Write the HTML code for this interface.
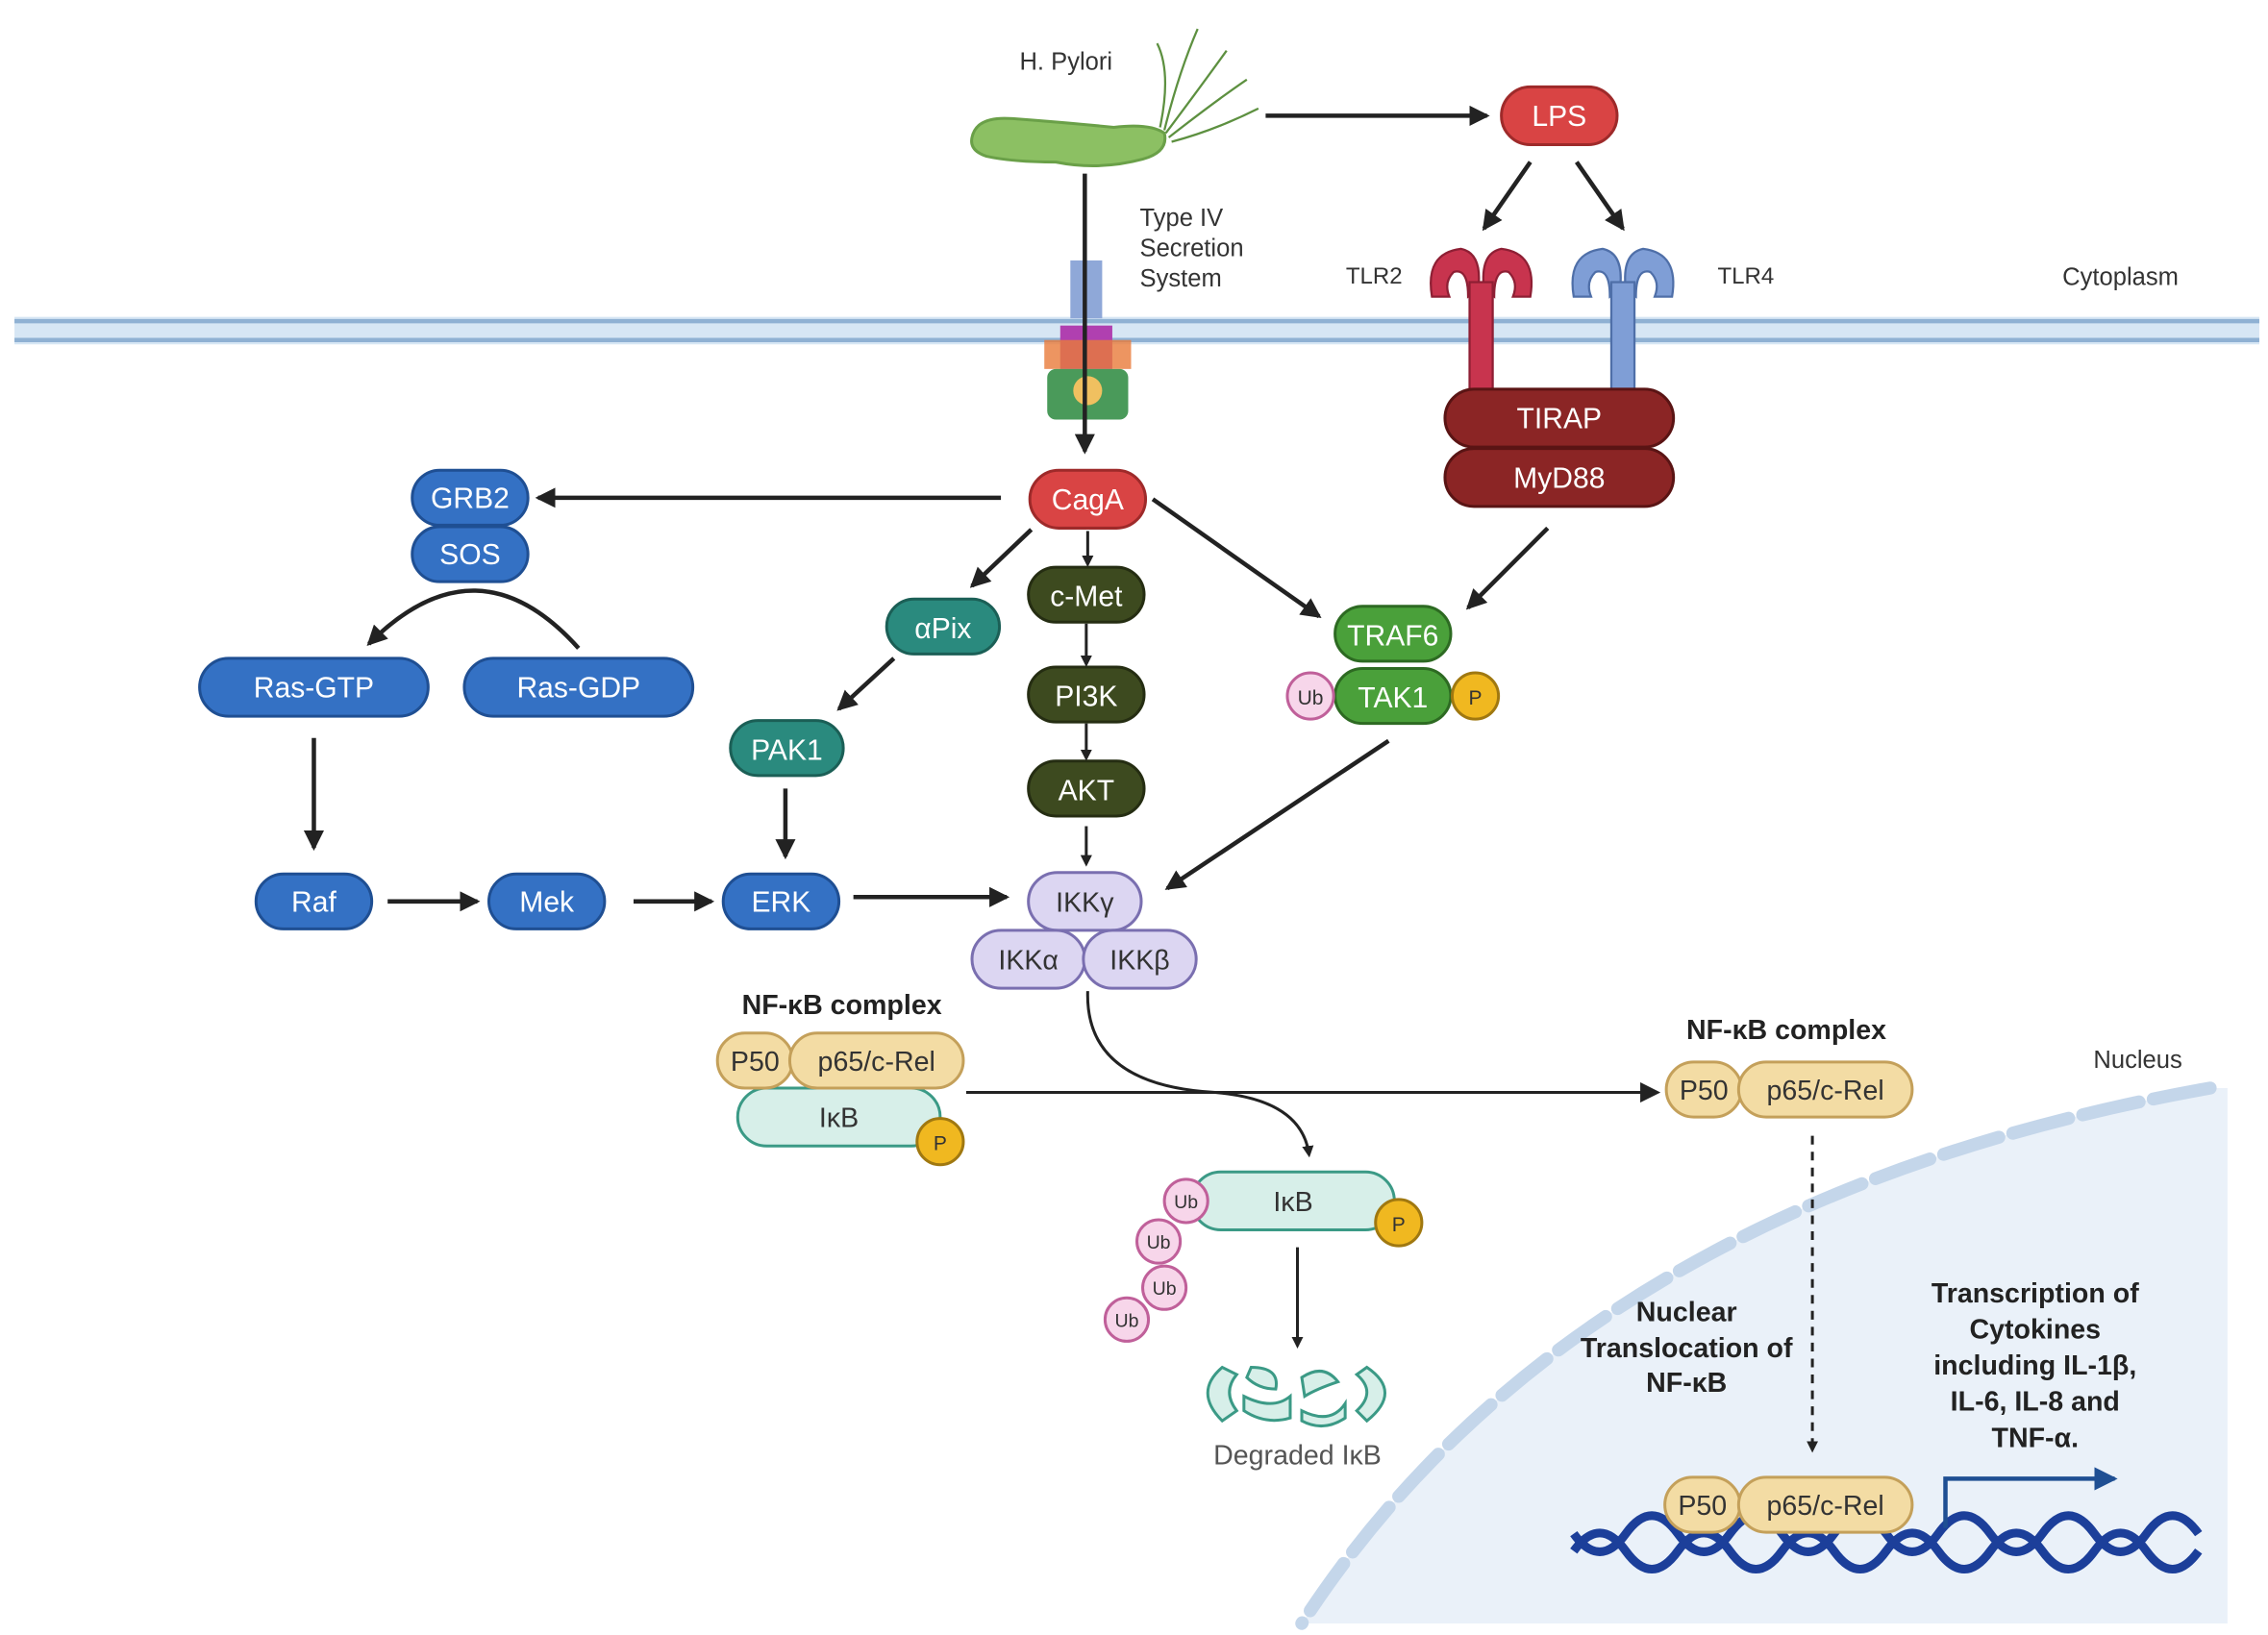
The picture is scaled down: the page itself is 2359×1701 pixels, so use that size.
<!DOCTYPE html>
<html><head><meta charset="utf-8"><style>
html,body{margin:0;padding:0;background:#fff;}
svg{display:block;}
text{font-family:"Liberation Sans",sans-serif;}
</style></head><body>
<svg width="2359" height="1701" viewBox="0 0 1568 1130" preserveAspectRatio="none" xmlns="http://www.w3.org/2000/svg">
<defs>
<marker id="ah" markerWidth="8" markerHeight="8" refX="6" refY="4" orient="auto" markerUnits="userSpaceOnUse"><path d="M0,0 L8,4 L0,8 z" fill="#222"/></marker>
<marker id="ah2" markerWidth="14" markerHeight="14" refX="12" refY="7" orient="auto" markerUnits="userSpaceOnUse"><path d="M0,0 L14,7 L0,14 z" fill="#222"/></marker>
<marker id="ahb" markerWidth="16" markerHeight="16" refX="14" refY="8" orient="auto" markerUnits="userSpaceOnUse"><path d="M0,0 L16,8 L0,16 z" fill="#1f4f93"/></marker>
</defs>
<rect width="1568" height="1130" fill="#fff"/>
<!-- nucleus -->
<path d="M1528,752 Q1090,830 900,1122 L1540,1122 L1540,752 Z" fill="#eaf1f9"/>
<path d="M1528,752 Q1090,830 900,1122" fill="none" stroke="#c4d6ea" stroke-width="9" stroke-dasharray="40,10" stroke-linecap="round"/>
<text x="1478" y="738" font-size="17" text-anchor="middle" fill="#333">Nucleus</text>
<!-- membrane -->
<rect x="10" y="219" width="1552" height="19" fill="#d6e6f4"/>
<line x1="10" y1="222" x2="1562" y2="222" stroke="#8fb1d3" stroke-width="3"/>
<line x1="10" y1="235" x2="1562" y2="235" stroke="#8fb1d3" stroke-width="3"/>
<text x="1466" y="197" font-size="17" text-anchor="middle" fill="#333">Cytoplasm</text>
<!-- H pylori -->
<text x="737" y="48" font-size="17" text-anchor="middle" fill="#333">H. Pylori</text>
<path d="M672,95 Q675,80 700,82 Q740,85 770,88 Q795,85 805,92 Q808,105 790,110 Q760,118 730,112 Q700,112 682,108 Q670,104 672,95Z" fill="#8cc063" stroke="#6aa048" stroke-width="2"/>
<path d="M805,90 Q815,50 828,20 M806,92 Q830,60 848,35 M808,95 Q840,70 862,55 M810,98 Q840,90 870,75 M802,88 Q810,50 800,30" fill="none" stroke="#5d9040" stroke-width="1.5"/>
<line x1="875" y1="80" x2="1028" y2="80" stroke="#222" stroke-width="3" marker-end="url(#ah2)"/>
<text x="788" y="156" font-size="17" fill="#333">Type IV</text>
<text x="788" y="177" font-size="17" fill="#333">Secretion</text>
<text x="788" y="198" font-size="17" fill="#333">System</text>
<!-- secretion apparatus -->
<rect x="740" y="180" width="22" height="40" fill="#8fa8d8"/>
<rect x="733" y="225" width="36" height="30" fill="#b040b0"/>
<rect x="722" y="235" width="60" height="20" fill="#e87a3a" opacity="0.8"/>
<rect x="724" y="255" width="56" height="35" fill="#4a9a5a" rx="6"/>
<circle cx="752" cy="270" r="10" fill="#f0c060"/>
<line x1="750" y1="120" x2="750" y2="312" stroke="#222" stroke-width="3" marker-end="url(#ah2)"/>
<!-- LPS -->
<rect x="1038" y="60" width="80" height="40" rx="20" fill="#d94444" stroke="#9e2a2a" stroke-width="2"/>
<text x="1078" y="87" font-size="20" text-anchor="middle" fill="#fff">LPS</text>
<line x1="1058" y1="112" x2="1026" y2="158" stroke="#222" stroke-width="3" marker-end="url(#ah2)"/>
<line x1="1090" y1="112" x2="1122" y2="158" stroke="#222" stroke-width="3" marker-end="url(#ah2)"/>
<text x="950" y="196" font-size="16" text-anchor="middle" fill="#333">TLR2</text>
<text x="1207" y="196" font-size="16" text-anchor="middle" fill="#333">TLR4</text>
<!-- TLR2 -->
<g fill="#c8344e" stroke="#8e1f34" stroke-width="1.5">
<path d="M990,205 Q985,175 1010,172 Q1025,175 1022,200 L1015,205 Q1015,185 1005,188 Q998,195 1002,205Z"/>
<path d="M1058,205 Q1063,175 1038,172 Q1023,175 1026,200 L1033,205 Q1033,185 1043,188 Q1050,195 1046,205Z"/>
<rect x="1016" y="195" width="16" height="75"/>
</g>
<!-- TLR4 -->
<g fill="#7f9ed6" stroke="#4f6fa8" stroke-width="1.5">
<path d="M1088,205 Q1083,175 1108,172 Q1123,175 1120,200 L1113,205 Q1113,185 1103,188 Q1096,195 1100,205Z"/>
<path d="M1156,205 Q1161,175 1136,172 Q1121,175 1124,200 L1131,205 Q1131,185 1141,188 Q1148,195 1144,205Z"/>
<rect x="1114" y="195" width="16" height="75"/>
</g>
<!-- TIRAP MyD88 -->
<rect x="999" y="269" width="158" height="40" rx="20" fill="#8b2525" stroke="#5a1414" stroke-width="2"/>
<text x="1078" y="296" font-size="20" text-anchor="middle" fill="#fff">TIRAP</text>
<rect x="999" y="310" width="158" height="40" rx="20" fill="#8b2525" stroke="#5a1414" stroke-width="2"/>
<text x="1078" y="337" font-size="20" text-anchor="middle" fill="#fff">MyD88</text>
<!-- CagA -->
<rect x="712" y="325" width="80" height="40" rx="20" fill="#d94444" stroke="#9e2a2a" stroke-width="2"/>
<text x="752" y="352" font-size="20" text-anchor="middle" fill="#fff">CagA</text>
<line x1="692" y1="344" x2="372" y2="344" stroke="#222" stroke-width="3" marker-end="url(#ah2)"/>
<!-- blue pills -->
<g fill="#3471c4" stroke="#1f4f93" stroke-width="2">
<rect x="285" y="325" width="80" height="38" rx="19"/>
<rect x="285" y="364" width="80" height="38" rx="19"/>
<rect x="138" y="455" width="158" height="40" rx="20"/>
<rect x="321" y="455" width="158" height="40" rx="20"/>
<rect x="177" y="604" width="80" height="38" rx="19"/>
<rect x="338" y="604" width="80" height="38" rx="19"/>
<rect x="500" y="604" width="80" height="38" rx="19"/>
</g>
<g font-size="20" text-anchor="middle" fill="#fff">
<text x="325" y="351">GRB2</text><text x="325" y="390">SOS</text>
<text x="217" y="482">Ras-GTP</text><text x="400" y="482">Ras-GDP</text>
<text x="217" y="630">Raf</text><text x="378" y="630">Mek</text><text x="540" y="630">ERK</text>
</g>
<path d="M400,448 Q330,370 255,445" fill="none" stroke="#222" stroke-width="3" marker-end="url(#ah2)"/>
<line x1="217" y1="510" x2="217" y2="586" stroke="#222" stroke-width="3" marker-end="url(#ah2)"/>
<line x1="268" y1="623" x2="330" y2="623" stroke="#222" stroke-width="3" marker-end="url(#ah2)"/>
<line x1="438" y1="623" x2="492" y2="623" stroke="#222" stroke-width="3" marker-end="url(#ah2)"/>
<line x1="590" y1="620" x2="696" y2="620" stroke="#222" stroke-width="3" marker-end="url(#ah2)"/>
<!-- teal -->
<rect x="613" y="414" width="78" height="38" rx="19" fill="#2a8a7e" stroke="#1b5f56" stroke-width="2"/>
<text x="652" y="441" font-size="20" text-anchor="middle" fill="#fff">αPix</text>
<rect x="505" y="498" width="78" height="38" rx="19" fill="#2a8a7e" stroke="#1b5f56" stroke-width="2"/>
<text x="544" y="525" font-size="20" text-anchor="middle" fill="#fff">PAK1</text>
<line x1="713" y1="366" x2="672" y2="405" stroke="#222" stroke-width="3" marker-end="url(#ah2)"/>
<line x1="618" y1="455" x2="580" y2="490" stroke="#222" stroke-width="3" marker-end="url(#ah2)"/>
<line x1="543" y1="545" x2="543" y2="592" stroke="#222" stroke-width="3" marker-end="url(#ah2)"/>
<!-- olive -->
<g fill="#3d4a1f" stroke="#252d12" stroke-width="2">
<rect x="711" y="392" width="80" height="38" rx="19"/>
<rect x="711" y="461" width="80" height="38" rx="19"/>
<rect x="711" y="526" width="80" height="38" rx="19"/>
</g>
<g font-size="20" text-anchor="middle" fill="#fff">
<text x="751" y="419">c-Met</text><text x="751" y="488">PI3K</text><text x="751" y="553">AKT</text>
</g>
<line x1="752" y1="367" x2="752" y2="390" stroke="#222" stroke-width="2" marker-end="url(#ah)"/>
<line x1="751" y1="431" x2="751" y2="459" stroke="#222" stroke-width="2" marker-end="url(#ah)"/>
<line x1="751" y1="500" x2="751" y2="524" stroke="#222" stroke-width="2" marker-end="url(#ah)"/>
<line x1="751" y1="571" x2="751" y2="597" stroke="#222" stroke-width="2" marker-end="url(#ah)"/>
<!-- TRAF6 TAK1 -->
<line x1="797" y1="345" x2="912" y2="426" stroke="#222" stroke-width="3" marker-end="url(#ah2)"/>
<line x1="1070" y1="365" x2="1015" y2="420" stroke="#222" stroke-width="3" marker-end="url(#ah2)"/>
<rect x="923" y="419" width="80" height="38" rx="19" fill="#4aa03a" stroke="#2d6a22" stroke-width="2"/>
<text x="963" y="446" font-size="20" text-anchor="middle" fill="#fff">TRAF6</text>
<rect x="923" y="462" width="80" height="38" rx="19" fill="#4aa03a" stroke="#2d6a22" stroke-width="2"/>
<text x="963" y="489" font-size="20" text-anchor="middle" fill="#fff">TAK1</text>
<circle cx="906" cy="481" r="16" fill="#f7d6ea" stroke="#c0609a" stroke-width="2"/>
<text x="906" y="487" font-size="14" text-anchor="middle" fill="#333">Ub</text>
<circle cx="1020" cy="481" r="16" fill="#f0b820" stroke="#a07810" stroke-width="2"/>
<text x="1020" y="487" font-size="14" text-anchor="middle" fill="#333">P</text>
<line x1="960" y1="512" x2="807" y2="614" stroke="#222" stroke-width="3" marker-end="url(#ah2)"/>
<!-- IKK -->
<g fill="#dcd6f2" stroke="#7a6fb0" stroke-width="2">
<rect x="711" y="603" width="78" height="40" rx="20"/>
<rect x="672" y="643" width="78" height="40" rx="20"/>
<rect x="749" y="643" width="78" height="40" rx="20"/>
</g>
<g font-size="19" text-anchor="middle" fill="#333">
<text x="750" y="630">IKKγ</text><text x="711" y="670">IKKα</text><text x="788" y="670">IKKβ</text>
</g>
<!-- NF-kB complex left -->
<text x="582" y="701" font-size="19" font-weight="bold" text-anchor="middle" fill="#222">NF-κB complex</text>
<rect x="510" y="752" width="140" height="40" rx="20" fill="#d7efe9" stroke="#3b9a86" stroke-width="2"/>
<text x="580" y="779" font-size="19" text-anchor="middle" fill="#333">IκB</text>
<rect x="496" y="714" width="52" height="38" rx="19" fill="#f3dca4" stroke="#c4a05a" stroke-width="2"/>
<text x="522" y="740" font-size="19" text-anchor="middle" fill="#333">P50</text>
<rect x="546" y="714" width="120" height="38" rx="19" fill="#f3dca4" stroke="#c4a05a" stroke-width="2"/>
<text x="606" y="740" font-size="19" text-anchor="middle" fill="#333">p65/c-Rel</text>
<circle cx="650" cy="789" r="16" fill="#f0b820" stroke="#a07810" stroke-width="2"/>
<text x="650" y="795" font-size="14" text-anchor="middle" fill="#333">P</text>
<line x1="668" y1="755" x2="1146" y2="755" stroke="#222" stroke-width="2" marker-end="url(#ah2)"/>
<path d="M752,685 Q750,750 840,755 Q900,760 905,798" fill="none" stroke="#222" stroke-width="2" marker-end="url(#ah)"/>
<!-- right complex -->
<text x="1235" y="718" font-size="19" font-weight="bold" text-anchor="middle" fill="#222">NF-κB complex</text>
<rect x="1152" y="734" width="52" height="38" rx="19" fill="#f3dca4" stroke="#c4a05a" stroke-width="2"/>
<text x="1178" y="760" font-size="19" text-anchor="middle" fill="#333">P50</text>
<rect x="1202" y="734" width="120" height="38" rx="19" fill="#f3dca4" stroke="#c4a05a" stroke-width="2"/>
<text x="1262" y="760" font-size="19" text-anchor="middle" fill="#333">p65/c-Rel</text>
<line x1="1253" y1="785" x2="1253" y2="1002" stroke="#222" stroke-width="2" stroke-dasharray="6,5" marker-end="url(#ah)"/>
<!-- IkB degraded -->
<rect x="824" y="810" width="140" height="40" rx="20" fill="#d7efe9" stroke="#3b9a86" stroke-width="2"/>
<text x="894" y="837" font-size="19" text-anchor="middle" fill="#333">IκB</text>
<circle cx="967" cy="845" r="16" fill="#f0b820" stroke="#a07810" stroke-width="2"/>
<text x="967" y="851" font-size="14" text-anchor="middle" fill="#333">P</text>
<g fill="#f7d6ea" stroke="#c0609a" stroke-width="2">
<circle cx="820" cy="830" r="15"/><circle cx="801" cy="858" r="15"/><circle cx="805" cy="890" r="15"/><circle cx="779" cy="912" r="15"/>
</g>
<g font-size="13" text-anchor="middle" fill="#333">
<text x="820" y="835">Ub</text><text x="801" y="863">Ub</text><text x="805" y="895">Ub</text><text x="779" y="917">Ub</text>
</g>
<line x1="897" y1="862" x2="897" y2="930" stroke="#222" stroke-width="2" marker-end="url(#ah)"/>
<g fill="#d7efe9" stroke="#3b9a86" stroke-width="2">
<path d="M845,945 Q825,962 845,982 L855,975 Q845,962 855,950Z"/>
<path d="M865,945 Q885,945 882,960 Q870,960 862,952Z"/>
<path d="M860,965 Q880,975 892,965 L892,980 Q875,985 860,975Z"/>
<path d="M900,952 Q915,942 925,955 Q910,960 902,965Z"/>
<path d="M900,975 Q920,985 930,970 L930,980 Q915,990 900,982Z"/>
<path d="M945,945 Q970,962 945,982 L938,975 Q952,962 938,950Z"/>
</g>
<text x="897" y="1012" font-size="19" text-anchor="middle" fill="#555">Degraded IκB</text>
<!-- nucleus text -->
<g font-size="19" font-weight="bold" text-anchor="middle" fill="#222">
<text x="1166" y="913">Nuclear</text><text x="1166" y="938">Translocation of</text><text x="1166" y="962">NF-κB</text>
<text x="1407" y="900">Transcription of</text><text x="1407" y="925">Cytokines</text><text x="1407" y="950">including IL-1β,</text><text x="1407" y="975">IL-6, IL-8 and</text><text x="1407" y="1000">TNF-α.</text>
</g>
<!-- DNA -->
<path d="M1088,1060 q18,25 36,0 q18,-25 36,0 q18,25 36,0 q18,-25 36,0 q18,25 36,0 q18,-25 36,0 q18,25 36,0 q18,-25 36,0 q18,25 36,0 q18,-25 36,0 q18,25 36,0 q18,-25 36,0" fill="none" stroke="#1c3f9a" stroke-width="6"/>
<path d="M1088,1072 q18,-25 36,0 q18,25 36,0 q18,-25 36,0 q18,25 36,0 q18,-25 36,0 q18,25 36,0 q18,-25 36,0 q18,25 36,0 q18,-25 36,0 q18,25 36,0 q18,-25 36,0 q18,25 36,0" fill="none" stroke="#1c3f9a" stroke-width="6"/>
<rect x="1151" y="1021" width="52" height="38" rx="19" fill="#f3dca4" stroke="#c4a05a" stroke-width="2"/>
<text x="1177" y="1047" font-size="19" text-anchor="middle" fill="#333">P50</text>
<rect x="1202" y="1021" width="120" height="38" rx="19" fill="#f3dca4" stroke="#c4a05a" stroke-width="2"/>
<text x="1262" y="1047" font-size="19" text-anchor="middle" fill="#333">p65/c-Rel</text>
<path d="M1345,1056 L1345,1022 L1462,1022" fill="none" stroke="#1f4f93" stroke-width="3" marker-end="url(#ahb)"/>
</svg>
</body></html>
